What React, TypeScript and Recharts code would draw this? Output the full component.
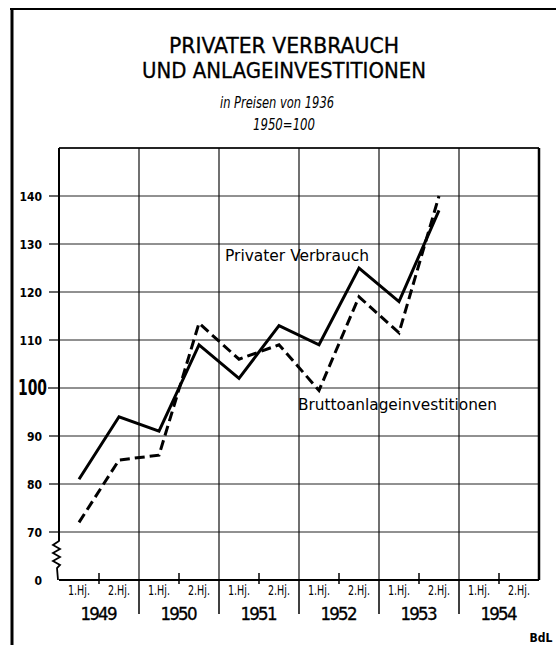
import React from 'react';
import { LineChart, Line, XAxis, YAxis, CartesianGrid, ReferenceLine } from 'recharts';

const periods = ['1949-1', '1949-2', '1950-1', '1950-2', '1951-1', '1951-2', '1952-1', '1952-2', '1953-1', '1953-2', '1954-1', '1954-2'];
const years = ['1949', '1950', '1951', '1952', '1953', '1954'];
const halfYearLabels = ['1.Hj.', '2.Hj.'];
const privaterVerbrauch = [81, 94, 91, 109, 102, 113, 109, 125, 118, 137, null, null];
const bruttoanlage = [72, 85, 86, 113.5, 106, 109, 99.5, 119, 111.5, 140, null, null];
const yTicks = [60, 70, 80, 90, 100, 110, 120, 130, 140, 150];
const yearBoundaries = [2, 4, 6, 8, 10];

const data = periods.map((p, i) => ({ period: p, pos: i + 0.5, pv: privaterVerbrauch[i], ba: bruttoanlage[i] }));
const xTicks = Array.from({ length: 25 }, (_, i) => i / 2);

const FONT = "'DejaVu Sans Condensed', 'DejaVu Sans', sans-serif";
const Y_TICK_SIZE = 10;
const Y_TICK_MARGIN = 7;

function YTick(props: any) {
  const { x, y, payload } = props;
  const v = payload.value;
  const left = x + Y_TICK_SIZE + Y_TICK_MARGIN;
  if (v === 150) return <g />;
  if (v === 60) {
    const Y = y;
    const L = left;
    const d = `M ${L} ${Y - 39} L ${L - 6} ${Y - 35} L ${L + 1} ${Y - 31} L ${L - 6} ${Y - 27} L ${L + 1} ${Y - 23} L ${L - 6} ${Y - 19} L ${L + 1} ${Y - 15} L ${L - 2} ${Y - 12} L ${L - 1} ${Y}`;
    return (
      <g>
        <text x={x} y={y + 4.5} textAnchor="end" fontFamily={FONT} fontWeight="bold" fontSize={12} fill="#000">0</text>
        <path d={d} fill="none" stroke="#000" strokeWidth={1.8} strokeLinejoin="miter" />
      </g>
    );
  }
  if (v === 100) {
    return (
      <g>
        <line x1={x + 6} x2={left} y1={y} y2={y} stroke="#000" strokeWidth={1.2} />
        <text x={x + 5} y={y + 6.5} textAnchor="end" fontFamily={FONT} fontWeight="bold" fontSize={21} textLength={29} lengthAdjust="spacingAndGlyphs" fill="#000">100</text>
      </g>
    );
  }
  return (
    <g>
      <line x1={left - 10} x2={left} y1={y} y2={y} stroke="#000" strokeWidth={1.2} />
      <text x={x} y={y + 4.5} textAnchor="end" fontFamily={FONT} fontWeight="bold" fontSize={12} fill="#000">{String(v)}</text>
    </g>
  );
}

function XTick(props: any) {
  const { x, y, payload } = props;
  const v = payload.value;
  if (v % 1 === 0.5) {
    const idx = v - 0.5;
    const label = halfYearLabels[idx % 2];
    return (
      <text x={x} y={y + 14.5} textAnchor="middle" fontFamily={FONT} fontSize={13.5} textLength={22} lengthAdjust="spacingAndGlyphs" fill="#000">{label}</text>
    );
  }
  if (v % 2 === 1) {
    const year = years[(v - 1) / 2];
    return (
      <g>
        <line x1={x} x2={x} y1={y - 7} y2={y + 4} stroke="#000" strokeWidth={1.5} />
        <text x={x} y={y + 40} textAnchor="middle" fontFamily={FONT} fontSize={18.5} textLength={37} lengthAdjust="spacing" fill="#000" stroke="#000" strokeWidth={0.3}>{year}</text>
      </g>
    );
  }
  if (v > 0 && v < 12) {
    return <line x1={x} x2={x} y1={y} y2={y + 34} stroke="#000" strokeWidth={1.5} />;
  }
  return <g />;
}

export default function App() {
  return (
    <div style={{ position: 'absolute', left: 0, top: 0, width: 556, height: 645, background: '#fff' }}>
      <LineChart width={556} height={645} data={data} margin={{ top: 148, right: 17, bottom: 0, left: 0 }}>
        <CartesianGrid vertical={false} stroke="#222" strokeWidth={1} />
        <XAxis
          type="number"
          dataKey="pos"
          domain={[0, 12]}
          ticks={xTicks}
          interval={0}
          height={65}
          tickLine={false}
          tickSize={0}
          tickMargin={0}
          axisLine={{ stroke: '#000', strokeWidth: 2 }}
          tick={<XTick />}
        />
        <YAxis
          type="number"
          domain={[60, 150]}
          ticks={yTicks}
          interval={0}
          width={59}
          tickLine={false}
          axisLine={false}
          tickSize={Y_TICK_SIZE}
          tickMargin={Y_TICK_MARGIN}
          tick={<YTick />}
        />
        {yearBoundaries.map((b) => (
          <ReferenceLine key={b} x={b} stroke="#111" strokeWidth={1.2} />
        ))}
        <ReferenceLine x={12} stroke="#000" strokeWidth={2.5} />
        <ReferenceLine y={150} stroke="#000" strokeWidth={1.6} />
        <ReferenceLine segment={[{ x: 0, y: 150 }, { x: 0, y: 68 }]} stroke="#000" strokeWidth={2} />
        <Line type="linear" dataKey="pv" stroke="#000" strokeWidth={3} dot={false} isAnimationActive={false} strokeLinejoin="miter" />
        <Line type="linear" dataKey="ba" stroke="#000" strokeWidth={3} strokeDasharray="10 5" dot={false} isAnimationActive={false} strokeLinejoin="miter" />
      </LineChart>
      <svg width={556} height={645} style={{ position: 'absolute', left: 0, top: 0, pointerEvents: 'none' }}>
        <line x1={12} x2={12} y1={8} y2={645} stroke="#000" strokeWidth={3} />
        <line x1={10} x2={556} y1={9} y2={9} stroke="#000" strokeWidth={2} />
        <text x={284} y={53} textAnchor="middle" fontFamily={FONT} fontSize={22} textLength={230} lengthAdjust="spacingAndGlyphs" fill="#000" stroke="#000" strokeWidth={0.3}>PRIVATER VERBRAUCH</text>
        <text x={284} y={78} textAnchor="middle" fontFamily={FONT} fontSize={22} textLength={284} lengthAdjust="spacingAndGlyphs" fill="#000" stroke="#000" strokeWidth={0.3}>UND ANLAGEINVESTITIONEN</text>
        <text x={277} y={108} textAnchor="middle" fontFamily={FONT} fontStyle="italic" fontSize={15} textLength={114} lengthAdjust="spacingAndGlyphs" fill="#000">in Preisen von 1936</text>
        <text x={284} y={130} textAnchor="middle" fontFamily={FONT} fontStyle="italic" fontSize={15} textLength={62} lengthAdjust="spacingAndGlyphs" fill="#000">1950=100</text>
        <text x={225} y={261} fontFamily={FONT} fontSize={16} textLength={144} lengthAdjust="spacingAndGlyphs" fill="#000">Privater Verbrauch</text>
        <text x={298} y={410} fontFamily={FONT} fontSize={16} textLength={199} lengthAdjust="spacingAndGlyphs" fill="#000">Bruttoanlageinvestitionen</text>
        <text x={541} y={642} textAnchor="middle" fontFamily={FONT} fontWeight="bold" fontSize={12} fill="#000">BdL</text>
      </svg>
    </div>
  );
}
